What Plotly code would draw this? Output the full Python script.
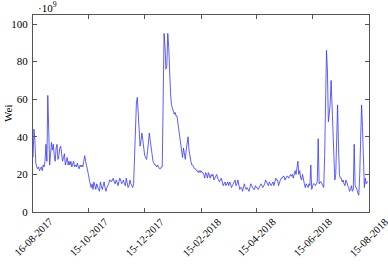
import pandas as pd
import plotly.graph_objects as go

start_date = "2017-08-16"
gas_price_gwei = [
    29, 44, 38, 26, 24, 23, 24, 22, 23, 24,
    22, 25, 24, 27, 36, 27, 62, 38, 25, 31,
    37, 33, 36, 30, 27, 34, 36, 28, 30, 34,
    35, 31, 27, 29, 31, 25, 27, 29, 25, 27,
    25, 27, 24, 26, 27, 24, 25, 24, 26, 24,
    23, 25, 24, 25, 24, 27, 30, 27, 25, 22,
    20, 17, 14, 13, 15, 12, 16, 14, 12, 15,
    13, 12, 11, 16, 14, 12, 14, 16, 13, 11,
    13, 14, 15, 17, 17, 16, 17, 18, 16, 15,
    17, 16, 14, 16, 18, 17, 15, 16, 17, 15,
    14, 18, 15, 13, 14, 17, 15, 14, 13, 15,
    30, 50, 58, 61, 52, 40, 35, 38, 42, 38,
    33, 30, 29, 28, 32, 40, 42, 38, 33, 28,
    27, 26, 25, 25, 24, 25, 24, 23, 23, 24,
    24, 60, 95, 88, 76, 78, 95, 88, 70, 63,
    57, 55, 54, 52, 53, 51, 51, 47, 42, 39,
    36, 30, 29, 34, 30, 28, 33, 37, 40, 33,
    28, 27, 25, 25, 24, 23, 23, 22, 22, 21,
    22, 21, 22, 21, 21, 20, 18, 21, 20, 18,
    21, 19, 18, 20, 19, 20, 17, 18, 19, 20,
    18, 17, 16, 17, 18, 16, 14, 15, 16, 14,
    15, 16, 14, 16, 15, 13, 14, 15, 16, 17,
    14, 15, 17, 13, 12, 13, 13, 11, 13, 15,
    13, 12, 13, 12, 11, 13, 15, 14, 13, 12,
    12, 14, 13, 13, 12, 13, 14, 15, 14, 13,
    14, 15, 17, 16, 15, 14, 16, 15, 14, 15,
    16, 14, 16, 18, 17, 17, 14, 16, 17, 18,
    18, 19, 19, 17, 18, 19, 19, 18, 19, 20,
    19, 20, 18, 21, 22, 20, 24, 27, 20, 22,
    18, 17, 20, 16, 15, 13, 15, 14, 13, 15,
    14, 25, 12, 14, 15, 15, 14, 15, 16, 39,
    15, 16, 16, 15, 14, 13, 30, 60, 86, 75,
    48, 52, 58, 70, 58, 40, 25, 17, 20, 40,
    57, 35, 20, 18, 18, 16, 17, 15, 14, 17,
    16, 14, 13, 11, 12, 14, 11, 12, 36, 14,
    13, 12, 10, 9, 20, 40, 57, 45, 25, 13,
    18, 15, 16, 16,
]
tick_dates = ["2017-08-16", "2017-10-15", "2017-12-15", "2018-02-15",
              "2018-04-15", "2018-06-15", "2018-08-15"]
tick_labels = ["16-08-2017", "15-10-2017", "15-12-2017", "15-02-2018",
               "15-04-2018", "15-06-2018", "15-08-2018"]
y_ticks = [0, 20, 40, 60, 80, 100]

dates = pd.date_range(start_date, periods=len(gas_price_gwei), freq="D")

FONT = "Liberation Serif"
fig = go.Figure()
fig.add_trace(go.Scatter(x=dates, y=gas_price_gwei, mode="lines",
                         line=dict(color="#3535ff", width=0.8),
                         showlegend=False, hoverinfo="skip"))

axis_common = dict(showline=True, linecolor="#555", linewidth=1, mirror="ticks",
                   ticks="inside", ticklen=4, tickcolor="#555", tickwidth=1,
                   showgrid=False, zeroline=False,
                   tickfont=dict(family=FONT, size=11, color="black"))
fig.update_xaxes(range=["2017-08-15 23:00", "2018-08-15 01:00"], tickmode="array",
                 tickvals=tick_dates, ticktext=tick_labels, showticklabels=False,
                 **axis_common)
fig.update_yaxes(range=[0, 104.8], tickmode="array", tickvals=y_ticks,
                 ticklabelstandoff=2, **axis_common)

# rotated x tick labels, centred under each tick (pgfplots style)
for d, lab in zip(tick_dates, tick_labels):
    fig.add_annotation(text=lab, x=d, xref="x", y=0, yref="paper",
                       xanchor="center", yanchor="top", yshift=-1,
                       textangle=-45, showarrow=False,
                       font=dict(family=FONT, size=10.5, color="black"))

fig.add_annotation(text="Wei", xref="paper", yref="paper", x=-0.1, y=0.5,
                   xanchor="left", textangle=-90, showarrow=False,
                   font=dict(family=FONT, size=11, color="black"))
fig.add_annotation(text="·10<sup>9</sup>", xref="paper", yref="paper",
                   x=0.01, y=1.0, xanchor="left", yanchor="bottom", yshift=-1,
                   showarrow=False, font=dict(family=FONT, size=11, color="black"))

fig.update_layout(width=388, height=265, margin=dict(l=33, r=19, t=15, b=53),
                  paper_bgcolor="white", plot_bgcolor="white")
fig.write_html("out.html")
